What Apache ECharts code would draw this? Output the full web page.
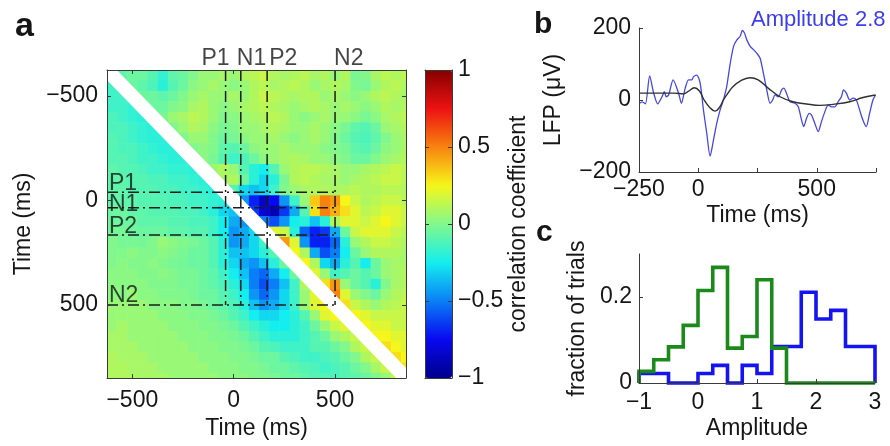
<!DOCTYPE html>
<html><head><meta charset="utf-8">
<script src="https://cdn.jsdelivr.net/npm/echarts@6/dist/echarts.min.js"></script>
<style>html,body{margin:0;padding:0;background:#fff}#c{width:890px;height:446px}</style>
</head><body><div id="c"></div>
<script>
// ---------------- DATA ----------------
// panel a: correlation map, bin centres (ms) for both axes
const timeBins = [-600,-550,-500,-450,-400,-350,-300,-250,-200,-150,-100,-50,0,50,100,150,200,250,300,350,400,450,500,550,600,650,700,750,800,850];
// rows = y bins (top to bottom), columns = x bins; null = diagonal (blank)
const corrMatrix = [
 [null,-.08,-.05,-.05,-.1,-.18,-.08,-.05,0,.05,.05,.08,.05,.1,.12,.15,.1,.08,.1,.12,.08,.1,.05,.1,-.02,0,.08,.12,.1,.12],
 [-.15,null,-.05,-.08,-.12,-.2,-.1,-.05,.02,.05,.08,.05,.02,.05,.1,.12,.08,.1,.12,.1,.05,.08,.1,.08,0,-.02,.05,.1,.12,.1],
 [-.15,-.15,null,-.05,-.05,-.08,-.05,0,.05,.08,.05,.05,.08,.05,.1,.15,.12,.1,.08,.1,.1,.05,.08,.05,.02,.05,.1,.12,.1,.08],
 [-.15,-.15,-.18,null,-.05,-.05,0,.02,.08,.1,.05,.02,.05,.08,.1,.12,.1,.08,.05,.08,.1,.08,.05,.08,.05,.02,.05,.1,.08,.1],
 [-.12,-.15,-.18,-.2,null,-.02,.05,.08,.12,.1,.05,0,.02,.05,.08,.1,.12,.1,.05,.02,.05,.08,.05,.05,.02,-.02,.02,.08,.1,.12],
 [-.12,-.12,-.15,-.18,-.2,null,0,.05,.1,.08,.02,-.02,0,.05,.05,.08,.1,.08,.05,.05,.08,.05,.02,-.02,-.08,-.1,-.05,.05,.08,.1],
 [-.1,-.12,-.15,-.18,-.2,-.2,null,0,.05,.05,0,-.05,-.02,.02,.05,.05,.08,.05,.02,.05,.08,.05,0,-.05,-.1,-.12,-.08,0,.05,.08],
 [-.1,-.12,-.12,-.15,-.18,-.2,-.2,null,0,.02,0,-.08,-.1,-.05,.02,.05,.05,.08,.05,.05,.05,.02,0,-.02,-.08,-.1,-.05,.02,.05,.08],
 [-.1,-.1,-.12,-.15,-.15,-.18,-.2,-.2,null,.02,-.02,-.1,-.15,-.12,-.05,.02,.05,.08,.1,.08,.05,.05,.02,0,-.05,-.05,0,.05,.08,.1],
 [-.08,-.1,-.1,-.12,-.15,-.15,-.18,-.18,-.2,null,.05,.1,.05,-.1,-.2,-.25,-.1,.05,.1,.12,.12,.1,.08,.05,.05,.08,.1,.12,.15,.12],
 [-.08,-.08,-.1,-.1,-.12,-.12,-.15,-.15,-.18,-.2,null,.08,.1,-.05,-.2,-.3,-.2,-.02,.1,.12,.1,.08,.08,.05,.08,.1,.12,.15,.15,.12],
 [-.08,-.08,-.1,-.1,-.1,-.12,-.12,-.15,-.15,-.18,-.2,null,-.1,-.3,-.35,-.3,-.15,0,.05,.08,.1,.1,.08,.1,.12,.1,.1,.12,.12,.1],
 [-.08,-.08,-.08,-.1,-.1,-.1,-.12,-.12,-.15,-.15,-.18,-.2,null,-.45,-.7,-.85,-.75,-.45,-.15,.05,.35,.5,.45,.25,.15,.1,.12,.15,.15,.12],
 [-.05,-.05,-.08,-.08,-.1,-.1,-.1,-.12,-.12,-.15,-.2,-.3,-.35,null,-.65,-.8,-.9,-.65,-.4,-.1,.3,.5,.4,.3,.2,.12,.15,.2,.2,.15],
 [-.05,-.05,-.05,-.08,-.08,-.08,-.1,-.1,-.12,-.12,-.15,-.25,-.4,-.45,null,-.5,-.6,-.45,-.25,-.2,-.35,-.2,.1,.2,.2,.15,.2,.25,.2,.15],
 [-.03,-.03,-.05,-.05,-.05,-.05,-.08,-.08,-.1,-.1,-.15,-.25,-.45,-.4,-.3,null,.2,.15,-.2,-.55,-.7,-.65,-.4,-.05,.15,.2,.2,.2,.15,.12],
 [0,-.02,-.02,-.03,0,.05,.02,0,-.02,-.05,-.1,-.2,-.45,-.4,-.3,-.15,null,.45,.2,-.45,-.7,-.7,-.55,-.2,.05,.1,.15,.15,.12,.1],
 [0,0,.02,0,0,.02,0,-.02,-.05,-.05,-.1,-.2,-.35,-.35,-.3,-.2,-.1,null,.25,.1,-.4,-.6,-.5,-.25,-.05,.05,.1,.1,.1,.08],
 [0,.02,0,0,.02,0,-.02,-.03,-.05,-.05,-.1,-.2,-.3,-.4,-.45,-.35,-.2,-.05,null,.25,.1,-.3,-.4,-.2,-.1,-.25,-.05,.05,.08,.08],
 [.02,.02,.02,0,0,.02,0,-.02,-.02,-.05,-.08,-.15,-.25,-.35,-.5,-.55,-.4,-.25,-.05,null,.2,.05,-.15,-.1,-.05,-.1,-.05,.05,.08,.1],
 [.02,.02,.02,.02,0,0,0,-.02,-.02,-.05,-.08,-.12,-.2,-.3,-.5,-.6,-.5,-.35,-.15,.1,null,.3,.45,.05,-.05,-.1,-.2,0,.08,.1],
 [.02,.02,.05,.02,.02,0,0,0,-.02,-.05,-.05,-.1,-.15,-.25,-.45,-.55,-.45,-.3,-.15,.05,.2,null,.5,.2,.05,0,-.05,.05,.1,.12],
 [.05,.05,.05,.05,.02,.02,.02,0,0,-.02,-.05,-.08,-.12,-.2,-.35,-.45,-.4,-.3,-.15,.05,.2,.25,null,.3,.15,.1,.05,.1,.12,.15],
 [.05,.05,.05,.05,.05,.02,.02,.02,0,0,-.02,-.05,-.1,-.15,-.25,-.3,-.3,-.25,-.2,-.1,.05,.2,.25,null,.25,.2,.15,.15,.15,.15],
 [.05,.08,.05,.05,.05,.05,.02,.02,.02,0,0,-.02,-.05,-.1,-.15,-.2,-.25,-.25,-.2,-.15,-.05,.05,.15,.2,null,.25,.2,.2,.15,.15],
 [.08,.08,.05,.05,.05,.05,.05,.02,.02,.02,0,0,-.02,-.05,-.1,-.15,-.2,-.2,-.2,-.15,-.1,-.05,.05,.1,.15,null,.25,.25,.2,.2],
 [.08,.08,.08,.05,.05,.05,.05,.05,.02,.02,.02,0,0,-.02,-.05,-.1,-.12,-.15,-.15,-.15,-.1,-.1,-.05,0,.1,.15,null,.3,.25,.2],
 [.1,.08,.08,.08,.05,.05,.05,.05,.05,.02,.02,.02,0,0,-.02,-.05,-.05,-.1,-.12,-.15,-.15,-.12,-.1,-.05,0,.1,.15,null,.3,.25],
 [.1,.1,.08,.08,.08,.05,.05,.05,.05,.05,.02,.02,.02,0,0,-.02,-.05,-.05,-.08,-.1,-.12,-.15,-.12,-.1,-.05,0,.08,.15,null,.3],
 [.1,.1,.1,.08,.08,.08,.05,.05,.05,.05,.05,.02,.02,.02,0,0,-.02,-.05,-.05,-.08,-.1,-.1,-.12,-.1,-.08,-.05,0,.05,.15,null]
];
const mapRange = [-625, 850];
const mapTicks = [-500, 0, 500];
const peakNames = ['P1', 'N1', 'P2', 'N2'];
const peakTimes = [-40, 35, 165, 500];
const colorbarRange = [-1, 1];

// panel b: LFP (µV) vs time (ms)
const trialTime = [-247,-237,-223,-205,-188,-171,-153,-143,-135,-125,-106,-83,-71,-55,-41,-27,-20,-6,8,22,36,50,64,78,92,106,120,135,149,163,177,186,195,205,219,233,247,261,275,289,303,314,324,338,352,361,375,387,408,422,436,445,457,468,478,492,506,520,534,548,562,576,590,604,613,625,639,653,667,681,695,709,723,737,748];
const trialLfp  = [-9,-5,-11,67,19,-11,9,23,9,14,56,19,-9,33,56,56,65,69,47,-28,-93,-156,-112,-65,-28,0,37,102,149,167,177,193,186,167,149,140,130,116,74,28,-9,0,14,9,28,33,14,-5,-9,-19,-56,-74,-51,-37,-42,-65,-88,-60,-33,-14,-19,-19,-5,9,28,19,0,5,0,-28,-56,-74,-37,0,14];
const meanTime = [-250,-200,-150,-100,-62,-40,-17,5,25,50,71,90,106,126,146,180,218,253,295,345,400,457,513,569,639,695,748];
const meanLfp  = [19,19,19,19,17,25,34,25,0,-22,-31,-20,0,20,37,54,62,56,33,9,-5,-11,-15,-12,-5,7,14];
const lfpTicks = [-250, 0, 250, 500, 750];
const lfpTickLabels = [-250, 0, 500];
const amplitudeNote = 'Amplitude 2.8';

// panel c: amplitude histograms (bin left edges, width 0.25)
const ampBinEdges = [-1,-0.75,-0.5,-0.25,0,0.25,0.5,0.75,1,1.25,1.5,1.75,2,2.25,2.5,2.75];
const ampBinWidth = 0.25;
const fracGreen = [0.027,0.054,0.084,0.134,0.215,0.269,0.081,0.108,0.240,0.081,0,0,0,0,0,0];
const fracBlue  = [0.022,0.022,0,0,0.022,0.041,0,0.041,0.022,0.085,0.085,0.211,0.149,0.169,0.085,0.085];
const fracTicks = [0, 0.2];

// ---------------- STYLE / BUILD ----------------
const FONT = '"Liberation Sans", Arial, Helvetica, sans-serif';
const FS = 23;
const TXT = '#161616';
const AX = '#3a3a3a';
const JET = ['#00008a','#0808f0','#0a7ff5','#14eeee','#82f88c','#f6f61a','#f8820f','#ec1212','#840000'];
const fmtMinus = v => String(v).replace('-', '\u2212');

function merge(a, b) {
  const out = Array.isArray(a) ? a.slice() : Object.assign({}, a);
  for (const k in b) {
    if (b[k] && typeof b[k] === 'object' && !Array.isArray(b[k]) && a && typeof a[k] === 'object' && !Array.isArray(a[k])) out[k] = merge(a[k], b[k]);
    else out[k] = b[k];
  }
  return out;
}
const axBase = {
  type: 'value', z: 10,
  axisLine: {show: true, onZero: false, lineStyle: {color: AX, width: 1}},
  axisTick: {show: true, inside: true, length: 4, lineStyle: {color: AX, width: 1}},
  axisLabel: {show: true, color: TXT, fontSize: FS, fontFamily: FONT, formatter: fmtMinus},
  splitLine: {show: false},
  nameTextStyle: {color: TXT, fontSize: FS, fontFamily: FONT}
};
const ax = o => merge(axBase, o);

const heatData = [];
corrMatrix.forEach((row, r) => row.forEach((v, c) => { if (v !== null) heatData.push([timeBins[c], timeBins[r], v]); }));
const HALF = 25;

const series = [];
series.push({
  type: 'custom', xAxisIndex: 0, yAxisIndex: 0, data: heatData, encode: {x: 0, y: 1}, z: 1, silent: true,
  renderItem: (params, api) => {
    const x = api.value(0), y = api.value(1);
    const a = api.coord([Math.max(x - HALF, mapRange[0]), Math.max(y - HALF, mapRange[0])]);
    const b = api.coord([Math.min(x + HALF, mapRange[1]), Math.min(y + HALF, mapRange[1])]);
    return {type: 'rect', shape: {x: Math.min(a[0], b[0]), y: Math.min(a[1], b[1]), width: Math.abs(b[0] - a[0]) + 0.6, height: Math.abs(b[1] - a[1]) + 0.6}, style: {fill: api.visual('color')}};
  }
});
// blank diagonal band
series.push({type: 'line', xAxisIndex: 0, yAxisIndex: 0, data: [[mapRange[0], mapRange[0]], [mapRange[1], mapRange[1]]], symbol: 'none', silent: true, z: 3, lineStyle: {color: '#ffffff', width: 14}});
// dash-dot peak lines
const boxEnd = peakTimes[peakTimes.length - 1];
const dashStyle = {color: '#1c1c1c', width: 1.5, type: [11, 4, 2, 4]};
peakTimes.forEach(t => {
  series.push({type: 'line', xAxisIndex: 0, yAxisIndex: 0, data: [[t, mapRange[0]], [t, boxEnd]], symbol: 'none', silent: true, z: 4, lineStyle: dashStyle});
  series.push({type: 'line', xAxisIndex: 0, yAxisIndex: 0, data: [[mapRange[0], t], [boxEnd, t]], symbol: 'none', silent: true, z: 4, lineStyle: dashStyle});
});
// peak labels (top and left)
const topAlign = ['right', 'left', 'left', 'left'];
const topOffset = [4, -4, 2, -1];
const leftDy = [3, 8, 3, 2];
series.push({
  type: 'scatter', xAxisIndex: 0, yAxisIndex: 0, symbolSize: 0, clip: false, silent: true, z: 6,
  data: peakTimes.map((t, i) => ({value: [t, mapRange[0]], name: peakNames[i], label: {align: topAlign[i], offset: [topOffset[i], 0]}})),
  label: {show: true, position: 'top', distance: 0, formatter: '{b}', color: TXT, fontSize: FS, fontFamily: FONT}
});
series.push({
  type: 'scatter', xAxisIndex: 0, yAxisIndex: 0, symbolSize: 0, clip: false, silent: true, z: 6,
  data: peakTimes.map((t, i) => ({value: [mapRange[0], t], name: peakNames[i], label: {position: [2, leftDy[i]]}})),
  label: {show: true, align: 'left', verticalAlign: 'bottom', formatter: '{b}', color: TXT, fontSize: FS, fontFamily: FONT}
});
// panel b
series.push({type: 'line', xAxisIndex: 4, yAxisIndex: 4, data: trialTime.map((t, i) => [t, trialLfp[i]]), symbol: 'none', smooth: 0.25, silent: true, z: 3, lineStyle: {color: '#4646e6', width: 1.3}});
series.push({type: 'line', xAxisIndex: 4, yAxisIndex: 4, data: meanTime.map((t, i) => [t, meanLfp[i]]), symbol: 'none', smooth: 0.4, silent: true, z: 4, lineStyle: {color: '#303030', width: 1.4}});
// panel c step histograms
function stepPts(vals) {
  const pts = [[ampBinEdges[0], 0]];
  vals.forEach((v, i) => { pts.push([ampBinEdges[i], v]); pts.push([ampBinEdges[i] + ampBinWidth, v]); });
  pts.push([ampBinEdges[ampBinEdges.length - 1] + ampBinWidth, 0]);
  return pts;
}
series.push({type: 'line', xAxisIndex: 5, yAxisIndex: 5, data: stepPts(fracBlue), symbol: 'none', silent: true, z: 3, clip: false, lineStyle: {color: '#1414f0', width: 3.6, join: 'miter'}});
series.push({type: 'line', xAxisIndex: 5, yAxisIndex: 5, data: stepPts(fracGreen), symbol: 'none', silent: true, z: 4, clip: false, lineStyle: {color: '#1b8a1b', width: 3.6, join: 'miter'}});

const option = {
  animation: false,
  backgroundColor: '#ffffff',
  textStyle: {fontFamily: FONT},
  title: [
    {text: 'a', left: 10, top: 5, textStyle: {fontSize: 34, fontWeight: 'bold', color: TXT, fontFamily: FONT}},
    {text: 'b', left: 529, top: 5, textStyle: {fontSize: 30, fontWeight: 'bold', color: TXT, fontFamily: FONT}},
    {text: 'c', left: 531, top: 213, textStyle: {fontSize: 30, fontWeight: 'bold', color: TXT, fontFamily: FONT}},
    {text: amplitudeNote, left: 746, top: 4, textStyle: {fontSize: 22, fontWeight: 'normal', color: '#3c3cf0', fontFamily: FONT}}
  ],
  grid: [
    {left: 107, top: 70, width: 299, height: 308},
    {left: 425, top: 70, width: 27, height: 308},
    {left: 639, top: 28, width: 237, height: 144},
    {left: 639, top: 254, width: 236, height: 129}
  ],
  visualMap: {
    type: 'continuous', min: colorbarRange[0], max: colorbarRange[1], seriesIndex: 0, dimension: 2,
    calculable: false, hoverLink: false, left: 425, top: 70, itemWidth: 27, itemHeight: 308, padding: 0, z: 2,
    inRange: {color: JET}
  },
  xAxis: [
    ax({gridIndex: 0, position: 'bottom', min: mapRange[0], max: mapRange[1], axisTick: {customValues: mapTicks}, axisLabel: {customValues: mapTicks, margin: 11}, name: 'Time (ms)', nameLocation: 'middle', nameGap: 39}),
    ax({gridIndex: 0, position: 'top', min: mapRange[0], max: mapRange[1], axisTick: {customValues: mapTicks}, axisLabel: {show: false}}),
    ax({gridIndex: 1, position: 'bottom', min: 0, max: 1, axisTick: {show: false}, axisLabel: {show: false}}),
    ax({gridIndex: 1, position: 'top', min: 0, max: 1, axisTick: {show: false}, axisLabel: {show: false}}),
    ax({gridIndex: 2, position: 'bottom', min: lfpTicks[0], max: lfpTicks[lfpTicks.length - 1], axisTick: {customValues: lfpTicks}, axisLabel: {customValues: lfpTickLabels, margin: 6}, name: 'Time (ms)', nameLocation: 'middle', nameGap: 32}),
    ax({gridIndex: 3, position: 'bottom', min: -1, max: 3, interval: 1, axisLabel: {margin: 8}, name: 'Amplitude', nameLocation: 'middle', nameGap: 34})
  ],
  yAxis: [
    ax({gridIndex: 0, position: 'left', inverse: true, min: mapRange[0], max: mapRange[1], axisTick: {customValues: mapTicks}, axisLabel: {customValues: mapTicks, margin: 9}, name: 'Time (ms)', nameLocation: 'middle', nameGap: 72, nameRotate: 90}),
    ax({gridIndex: 0, position: 'right', inverse: true, min: mapRange[0], max: mapRange[1], axisTick: {customValues: mapTicks}, axisLabel: {show: false}}),
    ax({gridIndex: 1, position: 'left', min: colorbarRange[0], max: colorbarRange[1], interval: 0.5, axisLabel: {show: false}}),
    ax({gridIndex: 1, position: 'right', min: colorbarRange[0], max: colorbarRange[1], interval: 0.5, axisLabel: {margin: 6}, name: 'correlation coefficient', nameLocation: 'middle', nameGap: 48, nameRotate: 90}),
    ax({gridIndex: 2, position: 'left', min: -200, max: 200, interval: 200, axisLabel: {margin: 8}, name: 'LFP (\u03bcV)', nameLocation: 'middle', nameGap: 74, nameRotate: 90}),
    ax({gridIndex: 3, position: 'left', min: 0, max: 0.3, axisTick: {customValues: fracTicks}, axisLabel: {customValues: fracTicks, margin: 7}, name: 'fraction of trials', nameLocation: 'middle', nameGap: 50, nameRotate: 90})
  ],
  series: series
};
const chart = echarts.init(document.getElementById('c'), null, {renderer: 'canvas'});
chart.setOption(option);
</script>
</body></html>
